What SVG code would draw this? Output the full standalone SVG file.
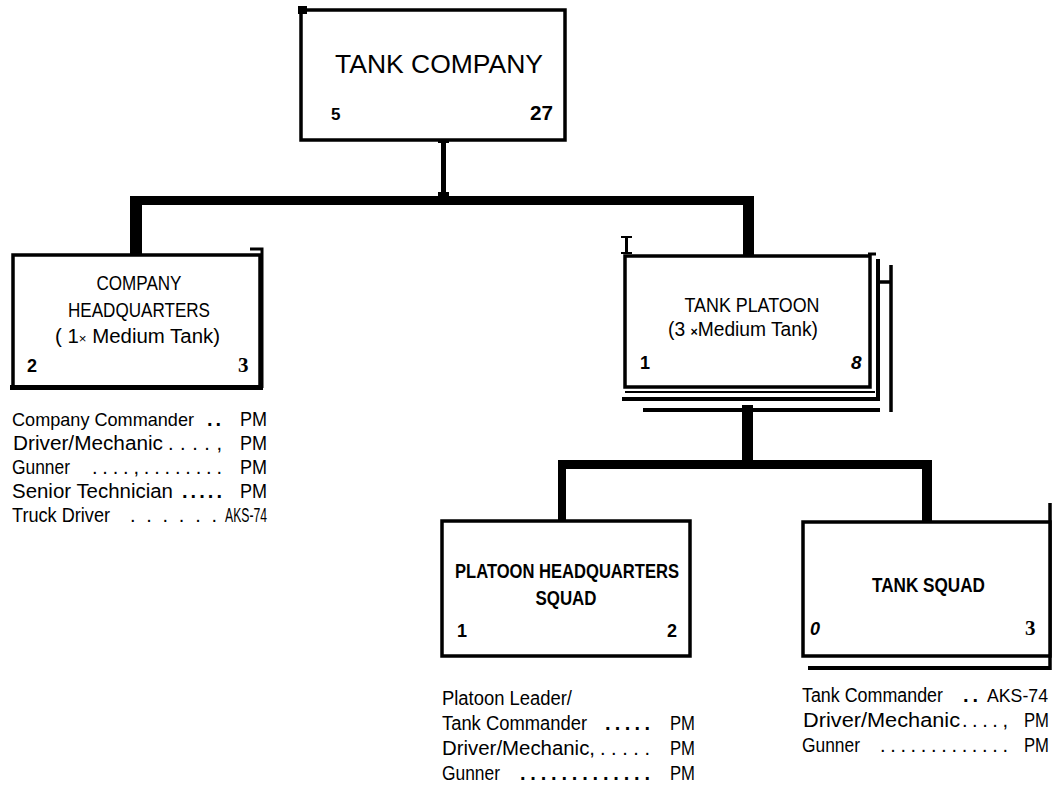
<svg xmlns="http://www.w3.org/2000/svg" width="1053" height="788" viewBox="0 0 1053 788">
<style>
.box{fill:#fff;stroke:#000;stroke-width:3.5}
.ln{fill:none;stroke:#000}
.t{font-family:"Liberation Sans",Arial,sans-serif;fill:#000}
.b{font-weight:bold}
.s{font-family:"Liberation Serif","Times New Roman",serif;font-weight:bold;fill:#000}
.lt{font-family:"Liberation Sans",Arial,sans-serif;font-size:20px;fill:#000}
</style>
<rect width="1053" height="788" fill="#fff"/>
<g id="connectors" fill="#000">
  <rect x="441" y="140" width="5" height="57"/>
  <rect x="438" y="140" width="11" height="3"/>
  <rect x="438" y="192" width="11" height="4"/>
  <rect x="130" y="196" width="624" height="9"/>
  <rect x="130" y="196" width="12" height="60"/>
  <rect x="743" y="196" width="11" height="60"/>
  <rect x="742" y="405" width="11" height="58"/>
  <rect x="558" y="460" width="374" height="9"/>
  <rect x="558" y="460" width="8" height="62"/>
  <rect x="922" y="460" width="10" height="63"/>
  <rect x="625" y="237" width="3" height="17"/>
  <rect x="621" y="236" width="11" height="2"/>
  <rect x="621" y="252" width="11" height="2"/>
</g>
<g id="tank-company">
  <rect class="box" x="301" y="10" width="264" height="130" stroke-width="4"/>
  <rect x="298" y="6" width="9" height="8" fill="#000"/>
  <text class="t" x="335" y="73" font-size="25" textLength="208" lengthAdjust="spacingAndGlyphs">TANK  COMPANY</text>
  <text class="t b" x="331" y="120" font-size="17">5</text>
  <text class="t b" x="530" y="120" font-size="21" textLength="23" lengthAdjust="spacingAndGlyphs">27</text>
</g>
<g id="company-hq">
  <rect class="box" x="13" y="255" width="247" height="133"/>
  <rect x="10" y="385" width="250" height="5" fill="#000"/>
  <path class="ln" d="M250 249 H262 V388" stroke-width="3"/>
  <rect x="255" y="385" width="8" height="5" fill="#000"/>
  <text class="t" x="139" y="290" font-size="20" text-anchor="middle" textLength="85" lengthAdjust="spacingAndGlyphs">COMPANY</text>
  <text class="t" x="139" y="317" font-size="20" text-anchor="middle" textLength="142" lengthAdjust="spacingAndGlyphs">HEADQUARTERS</text>
  <text class="t" x="55" y="343" font-size="20" textLength="165" lengthAdjust="spacingAndGlyphs">( 1<tspan font-size="13">×</tspan> Medium Tank)</text>
  <text class="t b" x="27" y="372" font-size="18">2</text>
  <text class="s" x="238" y="372" font-size="21">3</text>
</g>
<g id="company-hq-list" class="lt">
  <text x="12" y="426" font-size="18.5" textLength="182" lengthAdjust="spacingAndGlyphs">Company Commander</text>
  <text x="207" y="426" font-weight="bold" textLength="14" lengthAdjust="spacing">..</text>
  <text x="267" y="426" text-anchor="end" textLength="27" lengthAdjust="spacingAndGlyphs">PM</text>
  <text x="13" y="450" textLength="150" lengthAdjust="spacingAndGlyphs">Driver/Mechanic</text>
  <text x="168" y="450" textLength="54" lengthAdjust="spacing">....,</text>
  <text x="267" y="450" text-anchor="end" textLength="27" lengthAdjust="spacingAndGlyphs">PM</text>
  <text x="12" y="474" textLength="58" lengthAdjust="spacingAndGlyphs">Gunner</text>
  <text x="92" y="474" textLength="130" lengthAdjust="spacing">....,........</text>
  <text x="267" y="474" text-anchor="end" textLength="27" lengthAdjust="spacingAndGlyphs">PM</text>
  <text x="12" y="498" textLength="161" lengthAdjust="spacingAndGlyphs">Senior  Technician</text>
  <text x="182" y="498" font-weight="bold" textLength="40" lengthAdjust="spacing">.....</text>
  <text x="267" y="498" text-anchor="end" textLength="27" lengthAdjust="spacingAndGlyphs">PM</text>
  <text x="12" y="522" textLength="98" lengthAdjust="spacingAndGlyphs">Truck  Driver</text>
  <text x="130" y="522" textLength="87" lengthAdjust="spacing">......</text>
  <text x="267" y="522" text-anchor="end" textLength="42" lengthAdjust="spacingAndGlyphs">AKS-74</text>
</g>
<g id="tank-platoon">
  <path class="ln" d="M643 410 H880" stroke-width="4"/>
  <path class="ln" d="M878 282 H891 M891 265 V412" stroke-width="3.5"/>
  <path class="ln" d="M622 399 H880 M878 259 V401" stroke-width="4"/>
  <path class="ln" d="M625 392 H875" stroke-width="2"/>
  <rect class="box" x="625" y="256" width="245" height="131" stroke-width="3"/>
  <path class="ln" d="M868 254 H876" stroke-width="3"/>
  <text class="t" x="752" y="312" font-size="20" text-anchor="middle" textLength="135" lengthAdjust="spacingAndGlyphs">TANK  PLATOON</text>
  <text class="t" x="668" y="336" font-size="20" textLength="150" lengthAdjust="spacingAndGlyphs">(3 <tspan font-size="13" font-weight="bold">×</tspan>Medium  Tank)</text>
  <text class="t b" x="640" y="369" font-size="18">1</text>
  <text class="t b" x="851" y="369" font-size="19" font-style="italic">8</text>
</g>
<g id="platoon-hq">
  <rect class="box" x="442" y="521" width="248" height="135"/>
  <text class="t b" x="455" y="578" font-size="20" textLength="224" lengthAdjust="spacingAndGlyphs">PLATOON HEADQUARTERS</text>
  <text class="t b" x="566" y="605" font-size="20" text-anchor="middle" textLength="61" lengthAdjust="spacingAndGlyphs">SQUAD</text>
  <text class="t b" x="457" y="637" font-size="18">1</text>
  <text class="t b" x="667" y="637" font-size="18">2</text>
</g>
<g id="platoon-hq-list" class="lt">
  <text x="442" y="705" textLength="130" lengthAdjust="spacingAndGlyphs">Platoon  Leader/</text>
  <text x="442" y="730" textLength="145" lengthAdjust="spacingAndGlyphs">Tank  Commander</text>
  <text x="605" y="730" font-weight="bold" textLength="45" lengthAdjust="spacing">.....</text>
  <text x="695" y="730" text-anchor="end" textLength="25" lengthAdjust="spacingAndGlyphs">PM</text>
  <text x="442" y="755" textLength="153" lengthAdjust="spacingAndGlyphs">Driver/Mechanic,</text>
  <text x="600" y="755" textLength="50" lengthAdjust="spacing">.....</text>
  <text x="695" y="755" text-anchor="end" textLength="25" lengthAdjust="spacingAndGlyphs">PM</text>
  <text x="442" y="780" textLength="58" lengthAdjust="spacingAndGlyphs">Gunner</text>
  <text x="520" y="780" font-weight="bold" textLength="130" lengthAdjust="spacing">.............</text>
  <text x="695" y="780" text-anchor="end" textLength="25" lengthAdjust="spacingAndGlyphs">PM</text>
</g>
<g id="tank-squad">
  <path class="ln" d="M808 668 H1050" stroke-width="4"/>
  <path class="ln" d="M1050 503 V670" stroke-width="3.5"/>
  <rect class="box" x="803" y="522" width="247" height="134"/>
  <text class="t b" x="872" y="592" font-size="20" textLength="113" lengthAdjust="spacingAndGlyphs">TANK  SQUAD</text>
  <text class="t b" x="810" y="635" font-size="18" font-style="italic">0</text>
  <text class="s" x="1025" y="635" font-size="21">3</text>
</g>
<g id="tank-squad-list" class="lt">
  <text x="802" y="702" textLength="141" lengthAdjust="spacingAndGlyphs">Tank  Commander</text>
  <text x="963" y="702" font-weight="bold" textLength="15" lengthAdjust="spacing">..</text>
  <text x="1048" y="702" font-size="18" text-anchor="end" textLength="61" lengthAdjust="spacingAndGlyphs">AKS-74</text>
  <text x="803" y="727" textLength="157" lengthAdjust="spacingAndGlyphs">Driver/Mechanic</text>
  <text x="962" y="727" textLength="46" lengthAdjust="spacing">....,</text>
  <text x="1049" y="727" text-anchor="end" textLength="25" lengthAdjust="spacingAndGlyphs">PM</text>
  <text x="802" y="752" textLength="58" lengthAdjust="spacingAndGlyphs">Gunner</text>
  <text x="880" y="752" textLength="128" lengthAdjust="spacing">.............</text>
  <text x="1049" y="752" text-anchor="end" textLength="25" lengthAdjust="spacingAndGlyphs">PM</text>
</g>
</svg>
